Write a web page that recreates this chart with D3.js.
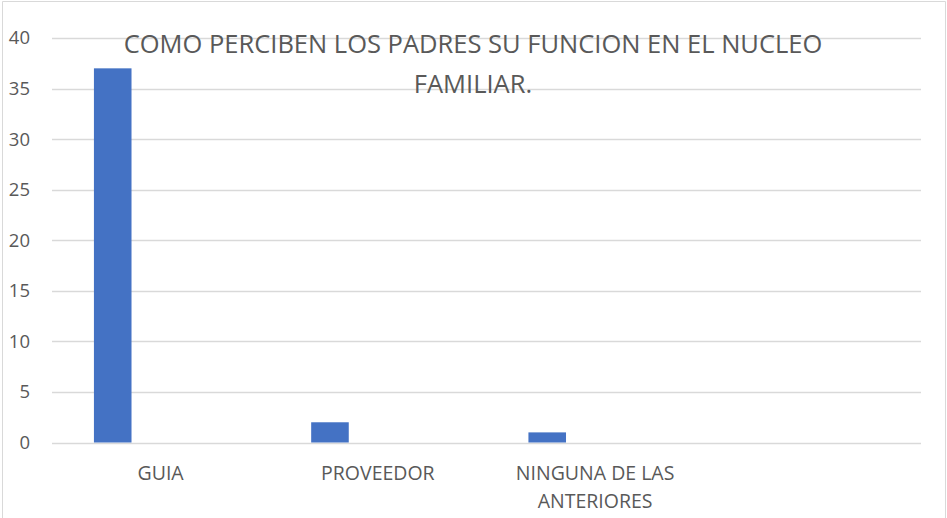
<!DOCTYPE html>
<html>
<head>
<meta charset="utf-8">
<script src="https://cdn.jsdelivr.net/npm/d3@7"></script>
<style>
  body { margin: 0; background: #fff; }
  svg { display: block; font-family: 'Open Sans', sans-serif; }
</style>
</head>
<body>
<svg></svg>
<script>
const width = 947
const height = 518
const margin = { top: 38, bottom: 75, left: 52, right: 25 }

const categories = ['GUIA', 'PROVEEDOR', 'NINGUNA DE LAS ANTERIORES', '']
const values = [37, 2, 1, null]
const yTicks = [0, 5, 10, 15, 20, 25, 30, 35, 40]
const titleLines = ['COMO PERCIBEN LOS PADRES SU FUNCION EN EL NUCLEO', 'FAMILIAR.']

const svg = d3.select('svg').attr('width', width).attr('height', height)

/** outer chart border */
svg.append('path')
  .attr('d', `M2.5,${height} V1.5 H945.5 V${height}`)
  .attr('fill', 'none')
  .attr('stroke', '#d9d9d9')

const xScale = d3.scaleBand()
  .domain(categories)
  .range([margin.left, width - margin.right - 1])

const yScale = d3.scaleLinear()
  .domain([0, 40])
  .range([height - margin.bottom - 0.5, margin.top])

/** gridlines */
svg.append('g')
  .selectAll('line')
  .data(yTicks)
  .enter()
  .append('line')
  .attr('x1', margin.left)
  .attr('x2', width - margin.right - 1)
  .attr('y1', d => Math.round(yScale(d)) + 0.5)
  .attr('y2', d => Math.round(yScale(d)) + 0.5)
  .attr('stroke', '#d9d9d9')
  .attr('stroke-width', 1.3)

/** y labels */
const yAxis = d3.axisLeft(yScale).tickValues(yTicks).tickSize(0).tickPadding(0)
const yG = svg.append('g')
  .attr('transform', 'translate(30,0)')
  .call(yAxis)
yG.select('.domain').remove()
yG.selectAll('text')
  .attr('fill', '#595959')
  .style('font-size', '18.5px')
  .style('font-family', "'Open Sans', sans-serif")

/** bars: first series sits left inside each category */
const bw = xScale.bandwidth()
svg.append('g')
  .selectAll('rect')
  .data(categories.map((c, i) => ({ c, v: values[i] })).filter(d => d.v != null))
  .enter()
  .append('rect')
  .attr('x', d => xScale(d.c) + bw * 0.193)
  .attr('width', bw * 0.173)
  .attr('y', d => yScale(d.v))
  .attr('height', d => yScale(0) - yScale(d.v))
  .attr('fill', '#4472c4')

/** category labels, wrapped */
const wrap = { 'NINGUNA DE LAS ANTERIORES': ['NINGUNA DE LAS', 'ANTERIORES'] }
const xl = svg.append('g')
  .selectAll('text')
  .data(categories.filter(c => c))
  .enter()
  .append('text')
  .attr('x', d => xScale(d) + bw / 2)
  .attr('y', 480)
  .attr('text-anchor', 'middle')
  .attr('fill', '#595959')
  .style('font-size', '19.5px')
xl.selectAll('tspan')
  .data(d => (wrap[d] || [d]).map(t => ({ t, x: xScale(d) + bw / 2 })))
  .enter()
  .append('tspan')
  .attr('x', d => d.x)
  .attr('dy', (d, i) => i ? 28 : 0)
  .text(d => d.t)

/** title */
svg.append('text')
  .attr('text-anchor', 'middle')
  .attr('fill', '#595959')
  .style('font-size', '25.5px')
  .selectAll('tspan')
  .data(titleLines)
  .enter()
  .append('tspan')
  .attr('x', 473)
  .attr('y', (d, i) => 53 + i * 40)
  .text(d => d)
</script>
</body>
</html>
